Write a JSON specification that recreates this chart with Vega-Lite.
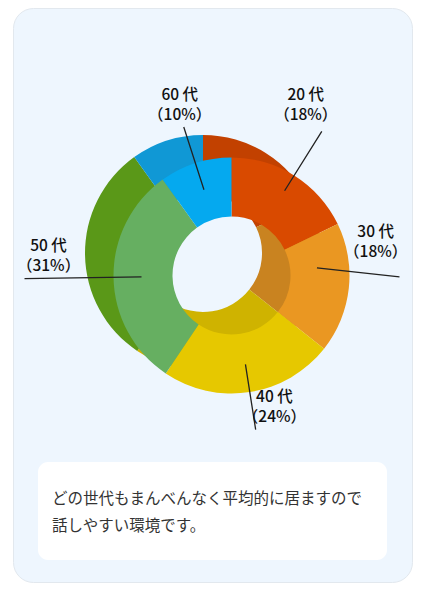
{
  "$schema": "https://vega.github.io/schema/vega-lite/v6.json",
  "width": 399,
  "height": 574,
  "padding": {"left": 13, "top": 8, "right": 22, "bottom": 28},
  "autosize": {"type": "none"},
  "background": "#ffffff",
  "view": {"fill": "#EEF6FE", "stroke": "#E2E8EE", "cornerRadius": 20},
  "config": {"font": "Noto Sans CJK JP"},
  "datasets": {
    "ages": [
      {"age": "20代", "share": 18, "label": "20 代\n（18%）"},
      {"age": "30代", "share": 18, "label": "30 代\n（18%）"},
      {"age": "40代", "share": 24, "label": "40 代\n（24%）"},
      {"age": "50代", "share": 31, "label": "50 代\n（31%）"},
      {"age": "60代", "share": 10, "label": "60 代\n（10%）"}
    ],
    "note": [{"text": "どの世代もまんべんなく平均的に居ますので\n話しやすい環境です。"}]
  },
  "data": {"name": "ages"},
  "layer": [
    {
      "mark": {"type": "arc", "radius": 118, "radius2": 59, "xOffset": -9.5, "yOffset": -42},
      "encoding": {
        "theta": {"field": "share", "type": "quantitative", "stack": true},
        "order": {"field": "age", "type": "ordinal"},
        "fill": {"field": "age", "type": "nominal", "legend": null,
          "scale": {"domain": ["20代", "30代", "40代", "50代", "60代"], "range": ["#C24100", "#C98320", "#CFB300", "#5A9818", "#1098D5"]}}
      }
    },
    {
      "mark": {"type": "arc", "radius": 118, "radius2": 59, "xOffset": 19, "yOffset": -19.5},
      "encoding": {
        "theta": {"field": "share", "type": "quantitative", "stack": true},
        "order": {"field": "age", "type": "ordinal"},
        "color": {"field": "age", "type": "nominal", "legend": null,
          "scale": {"domain": ["20代", "30代", "40代", "50代", "60代"], "range": ["#D94A00", "#EA9722", "#E6C800", "#66AF61", "#05A9EF"]}}
      }
    },
    {
      "mark": {"type": "arc", "filled": false, "stroke": "#222222", "strokeWidth": 1.3, "padAngle": 3, "radius": 156, "radius2": 90, "xOffset": 19, "yOffset": -19.5},
      "encoding": {
        "theta": {"field": "share", "type": "quantitative", "stack": true},
        "order": {"field": "age", "type": "ordinal"},
        "detail": {"field": "age", "type": "nominal"},
        "strokeOpacity": {"condition": {"test": "datum.age === '60代' || datum.age === '40代'", "value": 1}, "value": 0}
      }
    },
    {
      "mark": {"type": "arc", "filled": false, "stroke": "#222222", "strokeWidth": 1.3, "padAngle": 3, "radius": 207, "radius2": 90, "xOffset": 19, "yOffset": -19.5},
      "encoding": {
        "theta": {"field": "share", "type": "quantitative", "stack": true},
        "order": {"field": "age", "type": "ordinal"},
        "detail": {"field": "age", "type": "nominal"},
        "strokeOpacity": {"condition": {"test": "datum.age === '50代'", "value": 1}, "value": 0}
      }
    },
    {
      "mark": {"type": "arc", "filled": false, "stroke": "#222222", "strokeWidth": 1.3, "padAngle": 3, "radius": 170, "radius2": 100, "xOffset": 19, "yOffset": -19.5},
      "encoding": {
        "theta": {"field": "share", "type": "quantitative", "stack": true},
        "order": {"field": "age", "type": "ordinal"},
        "detail": {"field": "age", "type": "nominal"},
        "strokeOpacity": {"condition": {"test": "datum.age === '20代'", "value": 1}, "value": 0}
      }
    },
    {
      "mark": {"type": "arc", "filled": false, "stroke": "#222222", "strokeWidth": 1.3, "padAngle": 3, "radius": 173, "radius2": 90, "xOffset": 15, "yOffset": -37},
      "encoding": {
        "theta": {"field": "share", "type": "quantitative", "stack": true},
        "order": {"field": "age", "type": "ordinal"},
        "detail": {"field": "age", "type": "nominal"},
        "strokeOpacity": {"condition": {"test": "datum.age === '30代'", "value": 1}, "value": 0}
      }
    },
    {
      "data": {"name": "note"},
      "mark": {"type": "rect", "x": 25, "x2": 374, "y": 454, "y2": 552, "cornerRadius": 10, "fill": "#ffffff"},
      "encoding": {}
    },
    {
      "data": {"name": "note"},
      "mark": {"type": "text", "align": "left", "baseline": "middle", "lineBreak": "\n", "lineHeight": 27, "fontSize": 15.5, "color": "#333333", "dx": -160.5, "dy": 204},
      "encoding": {"text": {"field": "text", "type": "nominal"}}
    },
    {
      "mark": {"type": "text", "radius": 179, "dx": 3, "dy": -10, "xOffset": 19, "yOffset": -19.5, "fontSize": 15.5, "fontWeight": 500, "lineBreak": "\n", "lineHeight": 20, "align": "center", "baseline": "middle", "color": "#111111"},
      "encoding": {
        "theta": {"field": "share", "type": "quantitative", "stack": true},
        "order": {"field": "age", "type": "ordinal"},
        "detail": {"field": "age", "type": "nominal"},
        "text": {"field": "label", "type": "nominal", "condition": {"test": "datum.age !== '60代'", "value": ""}}
      }
    },
    {
      "mark": {"type": "text", "radius": 185, "dx": -24, "dy": -24, "xOffset": 19, "yOffset": -19.5, "fontSize": 15.5, "fontWeight": 500, "lineBreak": "\n", "lineHeight": 20, "align": "center", "baseline": "middle", "color": "#111111"},
      "encoding": {
        "theta": {"field": "share", "type": "quantitative", "stack": true},
        "order": {"field": "age", "type": "ordinal"},
        "detail": {"field": "age", "type": "nominal"},
        "text": {"field": "label", "type": "nominal", "condition": {"test": "datum.age !== '20代'", "value": ""}}
      }
    },
    {
      "mark": {"type": "text", "radius": 140, "dx": 5, "dy": -59, "xOffset": 19, "yOffset": -19.5, "fontSize": 15.5, "fontWeight": 500, "lineBreak": "\n", "lineHeight": 20, "align": "center", "baseline": "middle", "color": "#111111"},
      "encoding": {
        "theta": {"field": "share", "type": "quantitative", "stack": true},
        "order": {"field": "age", "type": "ordinal"},
        "detail": {"field": "age", "type": "nominal"},
        "text": {"field": "label", "type": "nominal", "condition": {"test": "datum.age !== '30代'", "value": ""}}
      }
    },
    {
      "mark": {"type": "text", "radius": 135, "dx": 22, "dy": -12, "xOffset": 19, "yOffset": -19.5, "fontSize": 15.5, "fontWeight": 500, "lineBreak": "\n", "lineHeight": 20, "align": "center", "baseline": "middle", "color": "#111111"},
      "encoding": {
        "theta": {"field": "share", "type": "quantitative", "stack": true},
        "order": {"field": "age", "type": "ordinal"},
        "detail": {"field": "age", "type": "nominal"},
        "text": {"field": "label", "type": "nominal", "condition": {"test": "datum.age !== '40代'", "value": ""}}
      }
    },
    {
      "mark": {"type": "text", "radius": 183, "dx": 0, "dy": -32, "xOffset": 19, "yOffset": -19.5, "fontSize": 15.5, "fontWeight": 500, "lineBreak": "\n", "lineHeight": 20, "align": "center", "baseline": "middle", "color": "#111111"},
      "encoding": {
        "theta": {"field": "share", "type": "quantitative", "stack": true},
        "order": {"field": "age", "type": "ordinal"},
        "detail": {"field": "age", "type": "nominal"},
        "text": {"field": "label", "type": "nominal", "condition": {"test": "datum.age !== '50代'", "value": ""}}
      }
    }
  ]
}
